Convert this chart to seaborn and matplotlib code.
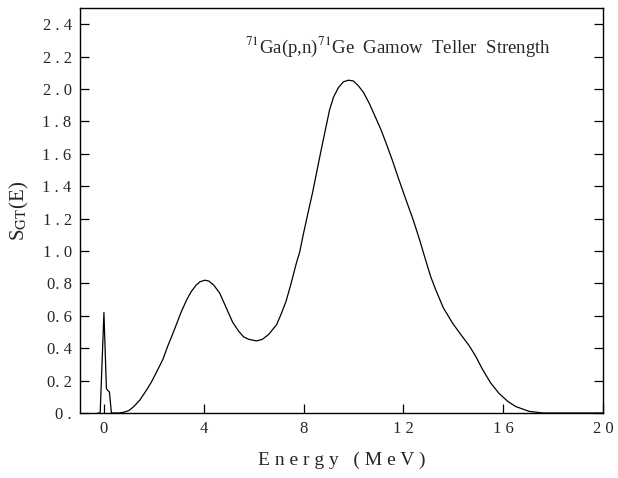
import matplotlib
matplotlib.use("Agg")
import matplotlib.pyplot as plt
import seaborn as sns
import pandas as pd

# Gamow-Teller strength distribution
energy = [-0.25, -0.15, 0.0, 0.1, 0.15, 0.22, 0.3, 0.35, 0.6, 0.8, 1.0, 1.2,
          1.44, 1.7, 1.9, 2.1, 2.36, 2.55, 2.76, 2.95, 3.1, 3.32, 3.5, 3.7,
          3.85, 4.04, 4.2, 4.4, 4.64, 4.9, 5.16, 5.4, 5.6, 5.8, 6.12, 6.35,
          6.6, 6.92, 7.1, 7.3, 7.5, 7.72, 7.84, 8.0, 8.2, 8.36, 8.7, 9.04,
          9.2, 9.4, 9.6, 9.8, 10.0, 10.2, 10.4, 10.64, 10.9, 11.1, 11.3,
          11.56, 11.8, 12.12, 12.4, 12.65, 12.9, 13.1, 13.3, 13.6, 13.97,
          14.3, 14.64, 14.9, 15.17, 15.5, 15.84, 16.2, 16.5, 17.04, 17.6, 20.0]
strength = [0.0, 0.0, 0.62, 0.15, 0.14, 0.13, 0.0, 0.0, 0.0, 0.005, 0.015, 0.04,
            0.08, 0.14, 0.19, 0.25, 0.33, 0.41, 0.49, 0.565, 0.625, 0.70, 0.75, 0.79,
            0.81, 0.82, 0.815, 0.79, 0.74, 0.65, 0.56, 0.505, 0.47, 0.455, 0.445, 0.455,
            0.485, 0.545, 0.61, 0.69, 0.80, 0.93, 0.99, 1.11, 1.25, 1.36, 1.62, 1.87,
            1.95, 2.01, 2.045, 2.055, 2.05, 2.02, 1.98, 1.91, 1.82, 1.75, 1.67,
            1.56, 1.45, 1.31, 1.19, 1.07, 0.94, 0.84, 0.76, 0.65, 0.555,
            0.485, 0.415, 0.35, 0.27, 0.185, 0.12, 0.07, 0.04, 0.01, 0.0, 0.0]

yticks = [0.0, 0.2, 0.4, 0.6, 0.8, 1.0, 1.2, 1.4, 1.6, 1.8, 2.0, 2.2, 2.4]
ytick_labels = ["0 .", "0. 2", "0. 4", "0. 6", "0. 8", "1 . 0", "1 . 2",
                "1 . 4", "1 . 6", "1 . 8", "2 . 0", "2 . 2", "2 . 4"]
xticks = [0, 4, 8, 12, 16, 20]
xtick_labels = ["0", "4", "8", "1 2", "1 6", "2 0"]

df = pd.DataFrame({"Energy": energy, "S": strength})

sns.set_style("ticks")
plt.rcParams["font.family"] = ["Liberation Serif", "DejaVu Serif"]
plt.rcParams["mathtext.fontset"] = "stix"

fig = plt.figure(figsize=(6.18, 4.78), dpi=100)
ax = fig.add_axes([0.1294, 0.136, 0.8463, 0.847])

sns.lineplot(data=df, x="Energy", y="S", sort=False, estimator=None,
             color="black", linewidth=0.9, ax=ax)

ax.set_xlim(-0.96, 20)
ax.set_ylim(0, 2.5)
ax.set_xticks(xticks)
ax.set_xticklabels(xtick_labels, fontsize=12)
ax.set_yticks(yticks)
ax.set_yticklabels(ytick_labels, fontsize=12)
ax.tick_params(axis="both", direction="in", length=6.5, width=0.9,
               color="black", pad=6, right=True)
for s in ax.spines.values():
    s.set_linewidth(1.0)
    s.set_color("black")

ax.text(5.64, 2.26, r"$^{71}$Ga(p,n)$^{71}$Ge  Gamow  Teller  Strength",
        fontsize=13.5, va="center", ha="left")

ax.set_xlabel("E n e r g y   ( M e V )", fontsize=14, labelpad=10)
ax.set_ylabel(r"S$_{\rm GT}$(E)", fontsize=15, labelpad=8)

fig.savefig("out.png", dpi=100)
